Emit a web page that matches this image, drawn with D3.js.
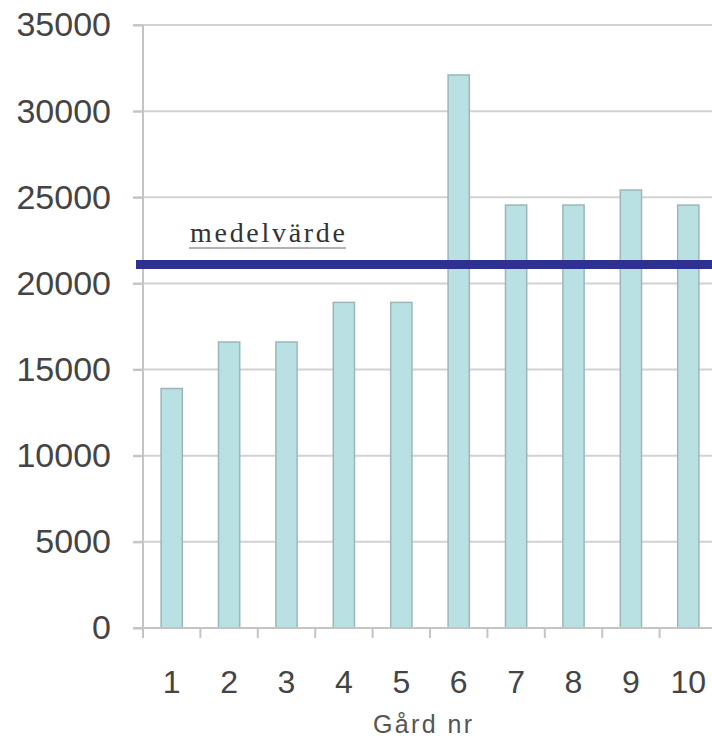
<!DOCTYPE html>
<html>
<head>
<meta charset="utf-8">
<script src="https://cdn.jsdelivr.net/npm/d3@7"></script>
<style>
  html, body { margin: 0; padding: 0; background: #fff; overflow: hidden; }
  svg { display: block; }
</style>
</head>
<body>
<svg id="chart" width="712" height="738"></svg>
<script>
// Gårdar och värden
const farms = ["1", "2", "3", "4", "5", "6", "7", "8", "9", "10"];
const values = [13900, 16600, 16600, 18900, 18900, 32100, 24550, 24550, 25420, 24550];
const yTicks = [0, 5000, 10000, 15000, 20000, 25000, 30000, 35000];
const meanValue = 21100;
const meanLabel = "medelvärde";
const xTitle = "Gård nr";

(function draw() {
  const svg = d3.select("#chart");
  const plotLeft = 143, plotRight = 717, plotTop = 25, plotBottom = 628;

  const x = d3.scaleBand().domain(farms).range([plotLeft, plotRight]).paddingInner(0.63).paddingOuter(0.315);
  const xTickScale = d3.scaleBand().domain(farms).range([plotLeft, plotRight]);
  const y = d3.scaleLinear().domain([0, 35000]).range([plotBottom, plotTop]);

  // Stödlinjer
  svg.append("g").selectAll("line").data(yTicks.filter(d => d > 0)).join("line")
    .attr("x1", plotLeft - 10).attr("x2", 712)
    .attr("y1", d => y(d)).attr("y2", d => y(d))
    .attr("stroke", "#d2d2d2").attr("stroke-width", 2);

  // Y-axel
  const yAxis = svg.append("g").attr("transform", `translate(${plotLeft},0)`)
    .call(d3.axisLeft(y).tickValues(yTicks).tickSize(10).tickPadding(22).tickFormat(d3.format("d")));
  yAxis.select(".domain").attr("stroke", "#c4c4c4").attr("stroke-width", 2).attr("d", `M0,${plotTop}V${plotBottom}`);
  yAxis.selectAll(".tick line").attr("stroke", "#c4c4c4").attr("stroke-width", 2);
  yAxis.selectAll("text").attr("font-family", "Liberation Sans, Arial, sans-serif")
    .attr("font-size", 34).attr("fill", "#444");

  // Staplar
  svg.append("g").selectAll("rect").data(values).join("rect")
    .attr("x", (d, i) => x(farms[i]))
    .attr("y", d => y(d))
    .attr("width", x.bandwidth())
    .attr("height", d => plotBottom - y(d))
    .attr("fill", "#b9e0e3")
    .attr("stroke", "#9cb7b9").attr("stroke-width", 1.5);

  // X-axel
  const xg = svg.append("g");
  xg.append("line").attr("x1", plotLeft - 10).attr("x2", 712).attr("y1", plotBottom).attr("y2", plotBottom)
    .attr("stroke", "#c4c4c4").attr("stroke-width", 2);
  xg.selectAll("line.tk").data(farms).join("line").attr("class", "tk")
    .attr("x1", d => xTickScale(d)).attr("x2", d => xTickScale(d))
    .attr("y1", plotBottom).attr("y2", plotBottom + 10)
    .attr("stroke", "#c4c4c4").attr("stroke-width", 2);
  xg.selectAll("text").data(farms).join("text")
    .attr("x", d => xTickScale(d) + xTickScale.bandwidth() / 2)
    .attr("y", 693)
    .attr("text-anchor", "middle")
    .attr("font-family", "Liberation Sans, Arial, sans-serif")
    .attr("font-size", 32).attr("fill", "#444")
    .text(d => d);

  // Axeltitel
  svg.append("text")
    .attr("x", 373).attr("y", 733)
    .attr("font-family", "Liberation Sans, Arial, sans-serif")
    .attr("font-size", 25).attr("fill", "#555")
    .attr("textLength", 99).attr("lengthAdjust", "spacing")
    .text(xTitle);

  // Medelvärdeslinje
  svg.append("line")
    .attr("x1", 136).attr("x2", 712)
    .attr("y1", y(meanValue)).attr("y2", y(meanValue))
    .attr("stroke", "#2e3192").attr("stroke-width", 9);

  svg.append("text")
    .attr("x", 190).attr("y", 242)
    .attr("font-family", "Liberation Serif, Times New Roman, serif")
    .attr("font-size", 28)
    .attr("textLength", 155).attr("lengthAdjust", "spacing")
    .attr("fill", "#333")
    .text(meanLabel);
  svg.append("line")
    .attr("x1", 189).attr("x2", 346)
    .attr("y1", 248).attr("y2", 248)
    .attr("stroke", "#999").attr("stroke-width", 1.5);
})();
</script>
</body>
</html>
